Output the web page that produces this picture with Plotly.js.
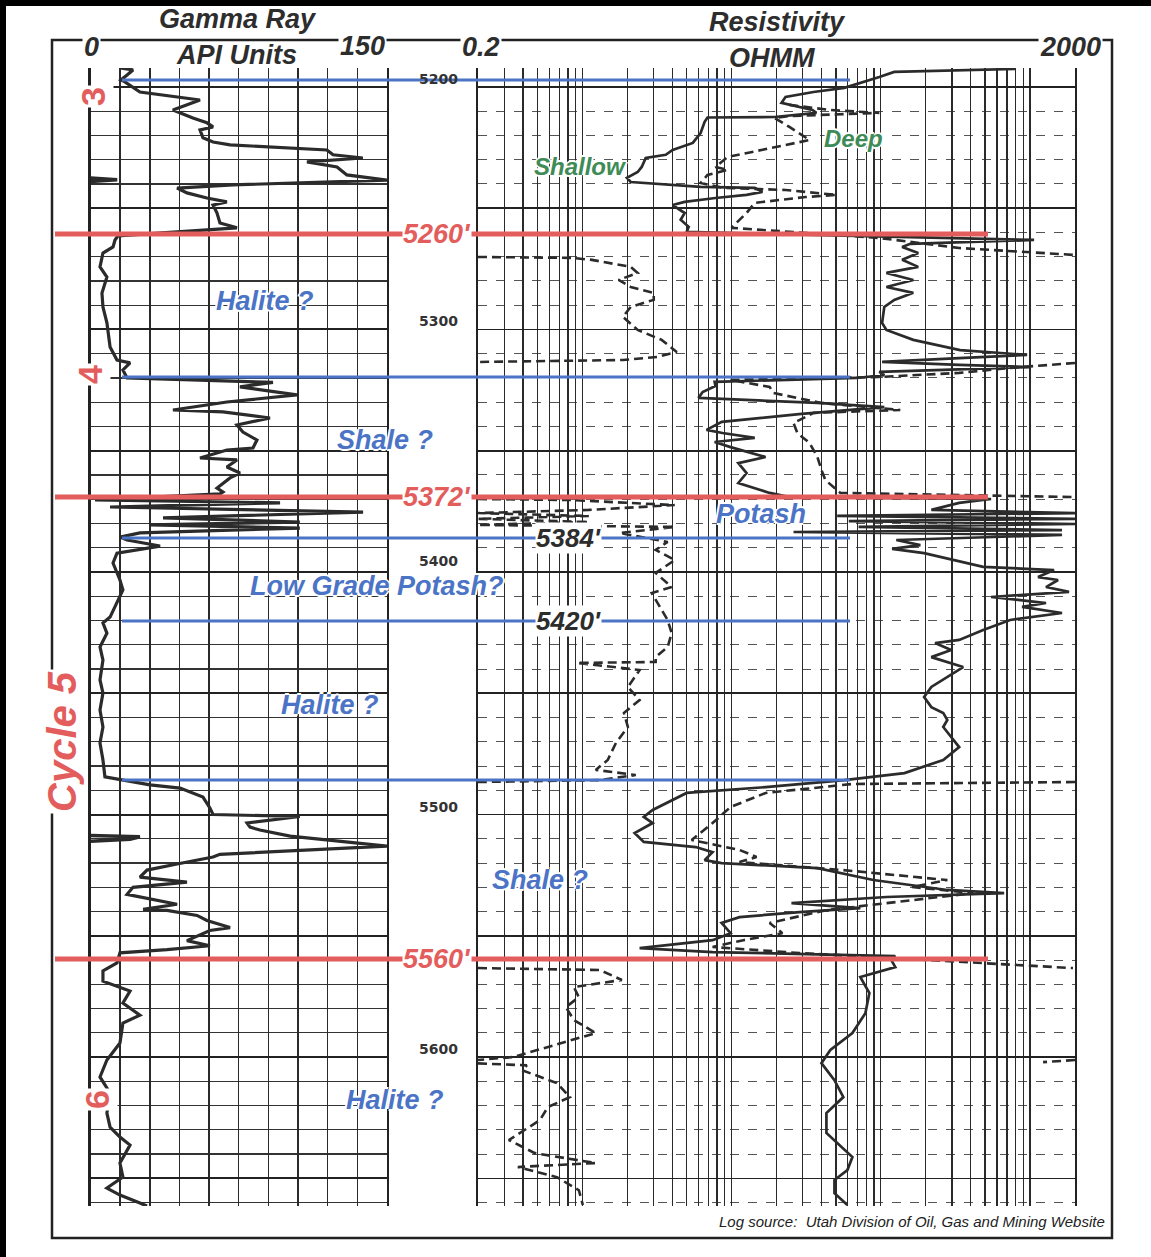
<!DOCTYPE html>
<html>
<head>
<meta charset="utf-8">
<script src="https://cdn.plot.ly/plotly-3.0.1.min.js"></script>
<style>html,body{margin:0;padding:0;background:#fff;}#chart{width:1151px;height:1257px;}</style>
</head>
<body>
<div id="chart"></div>
<script>
// ---------- DATA ----------
// Gamma Ray, API units, vs depth (ft)
const grDepth = [5192.2,5193.0,5195.1,5197.1,5197.9,5202.1,5205.4,5209.5,5212.8,5214.8,5216.5,5217.7,5221.0,5222.7,5223.9,5224.7,5226.0,5228.0,5229.3,5230.9,5233.0,5236.3,5238.4,5240.4,5241.7,5243.7,5245.8,5247.4,5248.7,5252.0,5256.1,5258.1,
 5261.4,5263.1,5266.0,5268.5,5274.2,5278.4,5285.0,5290.7,5297.3,5307.2,5312.6,5313.8,5316.7,5320.0,
 5321.2,5321.8,5323.7,5327.0,5329.9,5333.2,5334.0,5336.5,5339.4,5342.3,5345.6,5348.9,5349.7,5353.0,5353.8,5356.7,5359.2,5361.2,5365.4,5367.0,5367.8,
 5370.3,5371.5,5373.2,5375.3,5377.7,5379.4,5380.6,5381.9,5383.9,5385.6,5386.8,5389.3,5392.2,5396.3,5403.3,5407.4,5412.8,5418.6,5421.0,5425.2,5430.9,5436.3,5444.5,5449.9,5456.9,5463.9,5470.5,5477.5,5484.5,
 5485.8,5487.8,5489.1,5492.8,5497.3,5499.4,5500.0,5500.8,5503.5,5505.2,5506.4,5508.9,5513.0,5516.4,5517.5,5520.4,5522.9,5525.8,5527.9,5530.0,5532.9,5537.0,5539.1,5539.5,5541.6,5543.7,5546.6,5547.8,5549.5,5552.0,5554.1,5555.7,5557.0,
 5561.2,5564.5,5568.7,5572.8,5577.7,5582.7,5586.0,5594.2,5601.2,5608.2,5614.8,5623.1,5628.9,5633.0,5636.3,5643.7,5649.5,5654.0,5656.9,5660.2,5661.4];
const grApi = [14.9,21.5,18.5,15.4,17.4,25.0,55.4,41.7,51.8,58.9,62.0,55.4,56.9,62.0,70.6,89.3,119.6,122.7,137.8,109.5,124.7,129.7,150.0,72.1,43.8,48.8,58.9,69.0,62.0,64.0,65.5,74.1,
 13.9,12.4,11.4,6.3,4.8,8.3,5.8,6.3,8.3,9.9,13.4,20.0,16.4,18.5,
 72.1,92.3,75.6,104.4,69.0,41.7,67.0,90.8,74.1,77.1,84.2,82.2,69.0,55.4,74.1,69.0,75.6,70.6,64.0,67.0,65.5,
 2.3,95.9,9.9,137.9,36.7,105.9,30.1,105.9,25.0,14.9,18.5,35.2,13.4,11.4,14.9,16.4,13.4,9.9,6.3,8.3,4.8,6.3,4.8,6.3,4.8,6.3,4.8,6.3,7.3,
 16.4,30.1,45.3,56.9,60.4,62.0,62.0,105.9,79.2,80.7,85.7,101,150,65.5,62.0,43.8,28.6,25.0,48.8,21.5,18.5,43.8,26.6,38.7,53.9,58.9,70.6,60.4,55.4,48.8,60.4,38.7,14.9,
 13.4,6.3,6.3,20.0,16.4,25.0,16.4,14.9,8.3,4.8,9.9,8.3,9.9,14.9,20.0,14.9,16.4,8.3,14.9,25.0,28.6];
// short off-scale (wrapped) gamma excursions at the left edge
const grWrapDepth = [5237.6,5238.3,5239.0,null,5508.6,5509.2,5510.2,5511.0];
const grWrapApi = [0,13.5,0,null,0,25,20,0];

// Shallow resistivity (solid), ohm-m
const shallowDepth = [5192.6,5193.8,5195.9,5199.2,5200.4,5202.1,5204.1,5206.6,5208.2,5209.5,5210.7,5212.4,5212.6,5214.4,5219.0,5223.1,5226.0,5228.0,5229.3,5233.0,5235.1,5237.5,5239.2,5241.2,5241.6,5243.3,5244.5,5245.8,5247.4,5248.7,5252.0,5254.8,5257.7,5259.8,
 5261.4,5263.1,5264.7,5266.0,5268.5,5271.3,5274.2,5276.7,5279.6,5282.5,5284.9,5287.8,5290.7,5297.3,5300.2,5304.3,5308.5,5310.5,5311.8,5313.4,5314.6,5315.5,5316.7,5317.5,5318.8,5320.0,
 5321.6,5323.3,5325.8,5328.2,5330.3,5332.0,5334.8,5338.1,5341.4,5342.7,5344.7,5346.4,5348.5,5352.6,5355.1,5359.2,5363.3,5365.4,5367.4,5369.1,
 5369.9,5371.5,5373.2,5374.4,5375.7,5376.9,5378.1,5379.0,5380.2,5381.4,5382.7,5383.5,5384.7,5386.8,5388.9,5390.5,5392.2,5397.9,5399.2,5402.1,5403.3,5406.2,5408.2,5410.3,5412.8,5414.4,5416.9,5419.8,5423.9,5428.0,5429.3,5432.2,5435.1,5439.2,5447.4,5451.5,5455.7,5458.1,5461.0,5463.9,5472.2,5477.5,5482.9,5485.8,
 5488.7,5491.1,5498.1,5501.0,5503.5,5507.6,5511.3,5513.4,5515.5,5518.8,5520.0,5522.1,5527.0,5531.1,5532.4,5534.0,5536.5,5538.6,5540.2,5542.3,5544.7,5548.9,5551.8,5555.1,5556.7,5558.4,
 5560.0,5562.9,5567.0,5573.6,5581.9,5590.1,5597.1,5602.5,5609.5,5616.5,5623.1,5631.3,5641.2,5646.6,5650.7,5656.1,5661.0];
const shallowOhmm = [794,123,97.7,67.5,57.0,35.4,23.0,21.6,27.6,34.8,37.0,19.4,6.9,6.6,6.2,5.5,4.03,3.62,2.66,2.50,2.35,1.99,2.11,6.2,14.3,16.1,12.6,7.8,4.85,4.03,4.85,4.56,5.16,5.0,
 67.5,1064,157.5,139,178,139,178,109,165,109,165,123,105.5,102,109,165,340,955,335,102,335,1000,262,97.7,105.5,68.6,
 7.7,7.8,6.4,6.0,37.6,105.5,29.4,8.6,6.8,8.7,14.3,7.7,9.85,16.9,11.1,12.6,11.1,14.3,18.0,24.4,
 548,335,262,218,2000,51,2000,61,2000,71,1637,26.0,1637,127,184,119,195,485,1447,1131,1539,1279,1824,548,1279,884,1637,735,485,335,231,296,218,356,218,195,218,262,279,262,335,262,144,57,
 16.9,5.0,2.96,2.58,2.96,2.24,2.58,5.75,7.46,6.6,8.57,37.6,89.1,279,670,109,25.2,72.9,28.5,11.3,8.57,9.85,7.46,2.42,7.46,125,
 117.6,125,72.9,83.8,78.8,64.5,45.9,40.0,48.9,56.1,43.2,43.2,64.5,59.7,48.9,48.9,59.7];

// Deep resistivity (dashed), ohm-m; null = pen wraps around the track
const deepDepth = [5207.4,5209.5,5210.7,5212.0,5212.8,5216.5,5221.9,5225.2,5227.2,5228.9,5233.0,5234.2,5236.3,5239.6,5241.6,5242.5,5244.5,5245.4,5247.8,5252.0,5254.8,5258.1,5262.3,5266.4,5269.3,null,
 5270.1,5270.5,5271.3,5274.2,5276.7,5279.6,5282.5,5284.9,5287.8,5290.7,5294.8,5300.2,5304.3,5309.3,5311.3,5312.6,5313.4,null,
 5313.8,5315.9,5317.9,5319.6,5320.8,5323.7,5326.2,5330.3,5333.2,5334.4,5338.6,5342.7,5346.8,5352.6,5357.9,5362.1,5367.4,5369.1,null,
 5369.9,5370.3,5372.4,5374.4,5375.7,5376.9,5378.1,5379.4,5380.6,5381.4,5383.9,5387.6,5390.9,5395.1,5400.4,5406.2,5408.7,5414.4,5419.8,5425.2,5430.9,5435.1,5437.1,5437.5,5440.4,5447.4,5452.8,5458.1,5463.9,5470.5,5477.5,5481.6,5483.7,5485.8,5486.6,null,
 5486.6,5487.4,5491.1,5496.9,5503.5,5510.5,5514.6,5517.5,5519.6,5522.9,5527.0,5529.9,5532.4,5539.4,5544.7,5548.9,5551.8,5554.6,5557.1,5560.8,5563.3,null,
 5563.3,5564.1,5568.2,5571.1,5575.3,5579.4,5584.7,5590.1,5600.0,5601.2,null,
 5601.2,5602.1,null,
 5602.6,5603.4,5605.4,5610.7,5616.5,5620.6,5626.0,5634.2,5639.6,5643.7,5645.3,5649.5,5654.9,5661.0];
const deepOhmm = [24.4,45.2,97.7,24.4,19.4,24.4,33.3,18.2,12.6,9.4,7.8,9.4,6.9,6.2,8.8,23.0,50.4,31.3,14.3,12.6,11.3,10.0,97.7,335,2000,null,
 0.2,0.851,1.158,2.11,2.35,1.75,2.11,3.01,3.01,2.11,1.87,2.35,3.40,4.29,3.20,1.87,0.2,null,
 2000,724,335,97.7,9.85,18.0,19.1,40,135,35.4,26.0,27.6,33.3,37.6,40,42.5,53.6,2000,null,
 0.2,0.81,4.16,1.105,0.2,1.105,0.2,1.105,0.2,4.16,1.78,3.73,3.10,4.16,3.10,3.97,2.92,3.30,3.73,3.97,3.73,3.10,3.10,0.92,2.42,2.02,2.42,1.90,2.02,1.68,1.48,1.23,2.28,1.31,0.2,null,
 2000,64.5,16.9,9.85,7.46,5.4,11.3,14.7,11.3,56.1,279,162,416,43.2,18.0,21.9,12.0,7.46,28.5,340,1939,null,
 0.2,1.31,1.84,0.877,0.948,0.776,0.877,1.23,0.343,0.2,null,
 2000,1222,null,
 0.2,0.425,0.394,0.675,0.825,0.588,0.520,0.322,0.481,1.23,0.370,0.675,0.948,1.008];

// Cycle boundaries (red) and zone boundaries (blue), ft
const redDepths = [5260.6, 5369.1, 5559.6];
const redLabels = ["5260'", "5372'", "5560'"];
const blueDepths = [5197.1, 5319.6, 5386.0, 5420.2, 5485.8];
const blueLabels = ["", "", "5384'", "5420'", ""];
const depthTicks = [5200, 5300, 5400, 5500, 5600];
const zoneNames = ["Halite ?", "Shale ?", "Potash", "Low Grade Potash?", "Halite ?", "Shale ?", "Halite ?"];

// ---------- LAYOUT HELPERS ----------
const W = 1151, H = 1257;
const px = x => x / W;
const py = y => 1 - y / H;
const FONT = "Liberation Sans, Arial, sans-serif";
const INK = "#2b2b2b";
const RED = "#e35d5c";
const BLUE = "#4b74c6";
const GREEN = "#3f8b57";
const TXT = "#2d2d2d";

const resTicks = [];
for (let e = -1; e <= 3; e++) for (let m = 1; m <= 9; m++) {
  const v = +(m * Math.pow(10, e)).toPrecision(3);
  if (v >= 0.2 && v <= 2000) resTicks.push(v);
}

const yRange = [5661.4, 5192.2];
const yDomain = [py(1206), py(68)];

const traces = [
  {x: grApi, y: grDepth, xaxis: 'x', yaxis: 'y', mode: 'lines', line: {color: INK, width: 3.2}, connectgaps: false, hoverinfo: 'skip'},
  {x: grWrapApi, y: grWrapDepth, xaxis: 'x', yaxis: 'y', mode: 'lines', line: {color: INK, width: 3.5}, connectgaps: false, hoverinfo: 'skip'},
  {x: shallowOhmm, y: shallowDepth, xaxis: 'x2', yaxis: 'y2', mode: 'lines', line: {color: INK, width: 2.7}, connectgaps: false, hoverinfo: 'skip'},
  {x: deepOhmm, y: deepDepth, xaxis: 'x2', yaxis: 'y2', mode: 'lines', line: {color: INK, width: 2.6, dash: '9px,5px'}, connectgaps: false, hoverinfo: 'skip'}
];

const shapes = [
  // scan border
  {type: 'line', xref: 'paper', yref: 'paper', x0: 0, x1: 1, y0: py(3), y1: py(3), line: {color: '#000', width: 6}},
  {type: 'line', xref: 'paper', yref: 'paper', x0: px(3), x1: px(3), y0: 0, y1: 1, line: {color: '#000', width: 6}},
  // outer frame
  {type: 'rect', xref: 'paper', yref: 'paper', x0: px(52), x1: px(1112), y0: py(1238), y1: py(40), line: {color: '#222', width: 2.5}, fillcolor: 'rgba(0,0,0,0)', layer: 'below'}
];
redDepths.forEach(d => shapes.push({type: 'line', xref: 'paper', yref: 'y', x0: px(55), x1: px(988), y0: d, y1: d, line: {color: RED, width: 5}}));
blueDepths.forEach(d => shapes.push({type: 'line', xref: 'paper', yref: 'y', x0: px(122), x1: px(850), y0: d, y1: d, line: {color: BLUE, width: 3}}));

function ann(text, x, y, size, color, extra) {
  return Object.assign({text: text, xref: 'paper', yref: 'paper', x: px(x), y: py(y), xanchor: 'center', yanchor: 'middle',
    showarrow: false, font: {family: FONT, size: size, color: color}}, extra || {});
}
const glow = '2px 0 0 #fff, -2px 0 0 #fff, 0 2px 0 #fff, 0 -2px 0 #fff';
const annotations = [
  ann('<b><i>Gamma Ray</i></b>', 238, 19, 27, TXT),
  ann('<b><i>API Units</i></b>', 236, 55, 27, TXT),
  ann('<b><i>0</i></b>', 91, 47, 27, TXT, {bgcolor: '#fff'}),
  ann('<b><i>150</i></b>', 362, 46, 27, TXT, {bgcolor: '#fff'}),
  ann('<b><i>0.2</i></b>', 481, 47, 27, TXT, {bgcolor: '#fff'}),
  ann('<b><i>Resistivity</i></b>', 778, 22, 27, TXT),
  ann('<b><i>OHMM</i></b>', 772, 58, 27, TXT),
  ann('<b><i>2000</i></b>', 1070, 47, 27, TXT, {bgcolor: '#fff'}),
  ann('<b><i>Shallow</i></b>', 580, 167, 24, GREEN, {font: {family: FONT, size: 24, color: GREEN, shadow: glow}}),
  ann('<b><i>Deep</i></b>', 853, 138, 24, GREEN, {font: {family: FONT, size: 24, color: GREEN, shadow: glow}}),
  ann('<b>3</b>', 93, 97, 34, RED, {textangle: -90, bgcolor: '#fff'}),
  ann('<b>4</b>', 90, 375, 34, RED, {textangle: -90, bgcolor: '#fff'}),
  ann('<b><i>Cycle 5</i></b>', 62, 742, 40, RED, {textangle: -90, bgcolor: '#fff'}),
  ann('<b>6</b>', 97, 1100, 34, RED, {textangle: -90, bgcolor: '#fff'}),
  ann('<i>Log source:&nbsp; Utah Division of Oil, Gas and Mining Website</i>', 1107, 1221, 15, '#222', {xanchor: 'right'})
];
const zonePos = [[265, 301], [385, 440], [761, 514], [377, 586], [330, 705], [540, 880], [395, 1100]];
zoneNames.forEach((t, i) => annotations.push(ann('<b><i>' + t + '</i></b>', zonePos[i][0], zonePos[i][1], 27, BLUE,
  {font: {family: FONT, size: 27, color: BLUE, shadow: glow}, borderpad: 0})));
redLabels.forEach((t, i) => annotations.push({text: '<b><i>' + t + '</i></b>', xref: 'paper', yref: 'y', x: px(437), y: redDepths[i],
  xanchor: 'center', yanchor: 'middle', showarrow: false, bgcolor: '#fff', borderpad: 0, font: {family: FONT, size: 27, color: RED}}));
blueLabels.forEach((t, i) => { if (t) annotations.push({text: '<b><i>' + t + '</i></b>', xref: 'paper', yref: 'y', x: px(568), y: blueDepths[i],
  xanchor: 'center', yanchor: 'middle', showarrow: false, bgcolor: '#fff', borderpad: 0, font: {family: FONT, size: 26, color: TXT}}); });
depthTicks.forEach(d => annotations.push({text: '<b>' + d + '</b>', xref: 'paper', yref: 'y', x: px(438), y: d, yshift: d === 5400 ? 11 : 8,
  xanchor: 'center', yanchor: 'middle', showarrow: false, borderpad: 0, font: {family: 'DejaVu Sans, sans-serif', size: 14, color: '#333'}}));

const layout = {
  width: W, height: H, margin: {l: 0, r: 0, t: 0, b: 0},
  paper_bgcolor: '#fff', plot_bgcolor: 'rgba(0,0,0,0)', showlegend: false,
  xaxis: {domain: [px(90.5), px(387)], range: [0, 150], dtick: 15, tick0: 0, showgrid: true, gridcolor: '#2a2a2a', gridwidth: 1.4,
    showticklabels: false, ticks: '', zeroline: false, showline: false, anchor: 'y', fixedrange: true},
  yaxis: {domain: yDomain, range: yRange, dtick: 50, tick0: 5200, showgrid: true, gridcolor: '#222', gridwidth: 2,
    minor: {dtick: 10, tick0: 5200, showgrid: true, gridcolor: '#333', gridwidth: 1.2},
    showticklabels: false, ticks: '', zeroline: false, showline: true, mirror: true, linecolor: '#222', linewidth: 2.2, anchor: 'x', fixedrange: true},
  xaxis2: {domain: [px(478), px(1075)], type: 'log', range: [Math.log10(0.2), Math.log10(2000)], tickmode: 'array', tickvals: resTicks,
    showgrid: true, gridcolor: '#2a2a2a', gridwidth: 1.3, showticklabels: false, ticks: '', zeroline: false, showline: false, anchor: 'y2', fixedrange: true},
  yaxis2: {domain: yDomain, range: yRange, dtick: 50, tick0: 5200, showgrid: true, gridcolor: '#222', gridwidth: 1.6,
    minor: {dtick: 10, tick0: 5200, showgrid: true, gridcolor: '#555', gridwidth: 1, griddash: 'dash'},
    showticklabels: false, ticks: '', zeroline: false, showline: true, mirror: true, linecolor: '#222', linewidth: 2.2, anchor: 'x2', fixedrange: true},
  shapes: shapes,
  annotations: annotations
};

Plotly.newPlot('chart', traces, layout, {staticPlot: true, displayModeBar: false});
</script>
</body>
</html>
